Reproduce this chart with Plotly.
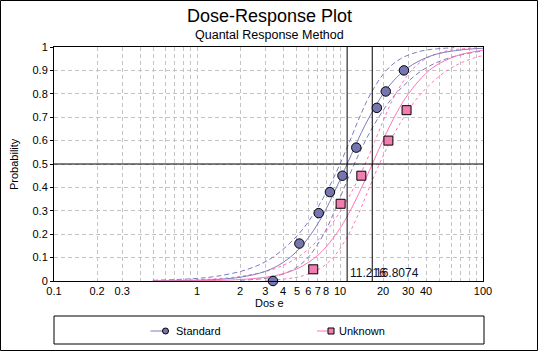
import math
import plotly.graph_objects as go

# ---------------- data ----------------
std_dose = [3.4, 5.2, 7.1, 8.5, 10.4, 13.0, 18.1, 20.9, 28.0]
std_prob = [0.0, 0.16, 0.29, 0.38, 0.45, 0.57, 0.74, 0.81, 0.90]
unk_dose = [6.5, 10.1, 14.1, 21.8, 29.2]
unk_prob = [0.05, 0.33, 0.45, 0.60, 0.73]

ed50_std = 11.216
ed50_unk = 16.8074

curve_dose = [0.5, 1, 1.5, 2, 3, 4, 5, 6, 7, 8, 10, 12, 15, 20, 25, 30, 40, 50, 70, 100]
std_fit = [0.0006, 0.0031, 0.0081, 0.016, 0.041, 0.079, 0.127, 0.184, 0.245, 0.308,
           0.432, 0.540, 0.667, 0.799, 0.871, 0.913, 0.954, 0.973, 0.9875, 0.9947]
unk_fit = [0.0002, 0.0012, 0.0031, 0.0062, 0.016, 0.031, 0.052, 0.079, 0.110, 0.146,
           0.225, 0.309, 0.432, 0.602, 0.721, 0.799, 0.888, 0.931, 0.968, 0.986]

band_p = [0.003, 0.01, 0.02, 0.05, 0.1, 0.2, 0.3, 0.4, 0.5, 0.6, 0.7, 0.8, 0.9, 0.95, 0.98, 0.99, 0.997]
std_upper_dose = [0.49, 0.94, 1.36, 2.26, 3.36, 5.13, 6.75, 8.36, 10.0, 11.75, 13.71, 16.37,
                  21.09, 26.55, 35.44, 43.75, 63.1]
std_lower_dose = [2.00, 2.88, 3.55, 4.74, 5.97, 7.69, 9.18, 10.72, 12.59, 15.07, 18.66, 24.55,
                  37.5, 55.7, 92.6, 134, 258]
unk_upper_dose = [0.73, 1.40, 2.04, 3.39, 5.03, 7.69, 10.11, 12.53, 14.99, 17.61, 20.54, 24.53,
                  31.60, 39.79, 53.11, 65.56, 94.55]
unk_lower_dose = [3.00, 4.32, 5.32, 7.10, 8.95, 11.52, 13.76, 16.06, 18.87, 22.58, 27.96, 36.79,
                  56.19, 83.47, 138.8, 200.8, 386.6]

x_tick_vals = [0.1, 0.2, 0.3, 0.4, 0.5, 0.6, 0.7, 0.8, 0.9,
               1, 2, 3, 4, 5, 6, 7, 8, 9,
               10, 20, 30, 40, 50, 60, 70, 80, 90, 100]
x_tick_text = ["0.1", "0.2", "0.3", "", "", "", "", "", "",
               "1", "2", "3", "4", "5", "6", "7", "8", "",
               "10", "20", "30", "40", "", "", "", "", "", "100"]
y_tick_vals = [0, 0.1, 0.2, 0.3, 0.4, 0.5, 0.6, 0.7, 0.8, 0.9, 1]
y_tick_text = ["0", "0.1", "0.2", "0.3", "0.4", "0.5", "0.6", "0.7", "0.8", "0.9", "1"]

# ---------------- style ----------------
FONT = "Arial, Liberation Sans, sans-serif"
BLUE = "#7C7CBE"
BLUE_FILL = "#7575B0"
PINK = "#FF74B8"
PINK_FILL = "#F27DB0"

W, H = 538, 352
ML, MR, MT, MB = 54, 55, 47, 71
PW = W - ML - MR
PH = H - MT - MB


def px(xp):
    return (xp - ML) / PW


def py(yp):
    return (H - MB - yp) / PH


fig = go.Figure()

# confidence bands
for xs, col, dash in [(std_upper_dose, BLUE, "5px,3px"), (std_lower_dose, BLUE, "5px,3px"),
                      (unk_upper_dose, PINK, "3px,3px"), (unk_lower_dose, PINK, "3px,3px")]:
    fig.add_trace(go.Scatter(x=xs, y=band_p, mode="lines", line=dict(color=col, width=1, dash=dash, shape="spline"),
                             showlegend=False, hoverinfo="skip"))

# fitted curves
fig.add_trace(go.Scatter(x=curve_dose, y=std_fit, mode="lines",
                         line=dict(color=BLUE, width=1, shape="spline"), showlegend=False))
fig.add_trace(go.Scatter(x=curve_dose, y=unk_fit, mode="lines",
                         line=dict(color=PINK, width=1, shape="spline"), showlegend=False))

# ED50 vertical lines
for ed in [ed50_std, ed50_unk]:
    fig.add_trace(go.Scatter(x=[ed, ed], y=[0, 1], mode="lines", line=dict(color="black", width=1),
                             showlegend=False, hoverinfo="skip"))

# data points
fig.add_trace(go.Scatter(x=std_dose, y=std_prob, mode="markers", name="Standard",
                         marker=dict(symbol="circle", size=9.5, color=BLUE_FILL, line=dict(color="black", width=1)),
                         cliponaxis=False, showlegend=False))
fig.add_trace(go.Scatter(x=unk_dose, y=unk_prob, mode="markers", name="Unknown",
                         marker=dict(symbol="square", size=9, color=PINK_FILL, line=dict(color="black", width=1)),
                         cliponaxis=False, showlegend=False))

shapes = [
    # horizontal 0.5 line
    dict(type="line", xref="x domain", yref="y", x0=0, x1=1, y0=0.5, y1=0.5, line=dict(color="black", width=1)),
    # outer border
    dict(type="rect", xref="paper", yref="paper", x0=px(0.5), x1=px(537.5), y0=py(0.5), y1=py(350.5),
         line=dict(color="black", width=1)),
    # legend box
    dict(type="rect", xref="paper", yref="paper", x0=px(54), x1=px(484), y0=py(316), y1=py(344),
         line=dict(color="black", width=1)),
    # legend lines
    dict(type="line", xref="paper", yref="paper", x0=px(150.5), x1=px(163), y0=py(331), y1=py(331),
         line=dict(color=BLUE, width=1)),
    dict(type="line", xref="paper", yref="paper", x0=px(317), x1=px(328), y0=py(331), y1=py(331),
         line=dict(color=PINK, width=1)),
    # legend markers
    dict(type="circle", xref="paper", yref="paper", x0=px(162.5), x1=px(168.5), y0=py(328), y1=py(334),
         fillcolor=BLUE_FILL, line=dict(color="black", width=1)),
    dict(type="rect", xref="paper", yref="paper", x0=px(328), x1=px(334), y0=py(328), y1=py(334),
         fillcolor=PINK_FILL, line=dict(color="black", width=1)),
]

annotations = [
    dict(text="Dose-Response Plot", x=px(269), y=py(16), xref="paper", yref="paper", showarrow=False,
         font=dict(family=FONT, size=18, color="black"), xanchor="center", yanchor="middle"),
    dict(text="Quantal Response Method", x=px(269), y=py(35.5), xref="paper", yref="paper", showarrow=False,
         font=dict(family=FONT, size=12.5, color="black"), xanchor="center", yanchor="middle"),
    dict(text="11.216", x=math.log10(ed50_std), y=0.035, xref="x", yref="y", showarrow=False,
         xanchor="left", yanchor="middle", xshift=1, font=dict(family=FONT, size=12, color="#10102a")),
    dict(text="16.8074", x=math.log10(ed50_unk), y=0.035, xref="x", yref="y", showarrow=False,
         xanchor="left", yanchor="middle", xshift=1, font=dict(family=FONT, size=12, color="#10102a")),
    dict(text="Standard", x=px(174), y=py(331), xref="paper", yref="paper", showarrow=False,
         xanchor="left", yanchor="middle", font=dict(family=FONT, size=11, color="black")),
    dict(text="Unknown", x=px(337), y=py(331), xref="paper", yref="paper", showarrow=False,
         xanchor="left", yanchor="middle", font=dict(family=FONT, size=11, color="black")),
    dict(text="Dos e", x=px(269.5), y=py(303), xref="paper", yref="paper", showarrow=False,
         xanchor="center", yanchor="middle", font=dict(family=FONT, size=11, color="black")),
    dict(text="Probability", x=px(14), y=py(164), xref="paper", yref="paper", showarrow=False, textangle=-90,
         xanchor="center", yanchor="middle", font=dict(family=FONT, size=11, color="black")),
]

fig.update_layout(
    width=W, height=H,
    margin=dict(l=ML, r=MR, t=MT, b=MB, pad=0),
    paper_bgcolor="white", plot_bgcolor="white",
    showlegend=False,
    shapes=shapes, annotations=annotations,
    font=dict(family=FONT, size=11, color="black"),
    xaxis=dict(type="log", range=[-1, 2], tickvals=x_tick_vals, ticktext=x_tick_text,
               showgrid=True, gridcolor="#C4C4C4", griddash="4px,3px", gridwidth=1,
               showline=True, linecolor="black", linewidth=1, mirror=True,
               ticks="", zeroline=False, tickfont=dict(family=FONT, size=11, color="black")),
    yaxis=dict(range=[0, 1], tickvals=y_tick_vals, ticktext=y_tick_text,
               showgrid=True, gridcolor="#C4C4C4", griddash="4px,3px", gridwidth=1,
               showline=True, linecolor="black", linewidth=1, mirror=True,
               ticks="outside", ticklen=3, tickcolor="black", zeroline=False,
               tickfont=dict(family=FONT, size=11, color="black")),
)

fig.write_html("out.html")
